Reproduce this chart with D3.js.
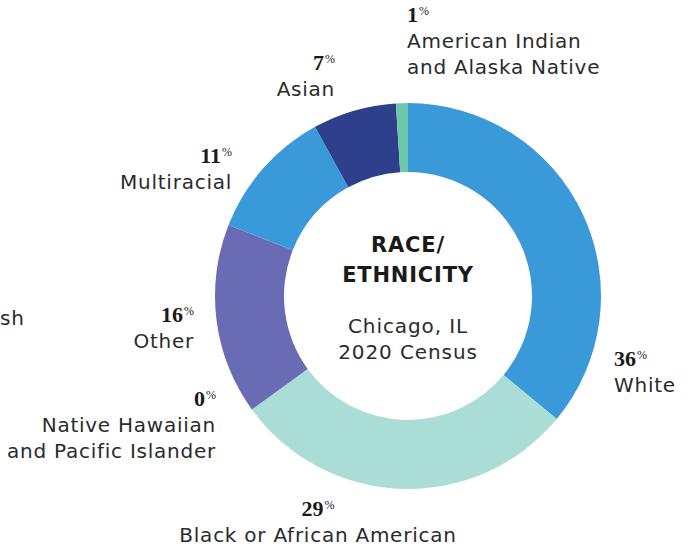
<!DOCTYPE html>
<html>
<head>
<meta charset="utf-8">
<script src="https://cdn.jsdelivr.net/npm/d3@7"></script>
<style>
  html, body { margin: 0; padding: 0; background: #fff; }
  svg { display: block; }
</style>
</head>
<body>
<svg id="chart" width="691" height="552"></svg>
<script>
// ---- data ----
const categories = ["White", "Black or African American", "Native Hawaiian and Pacific Islander", "Other", "Multiracial", "Asian", "American Indian and Alaska Native"];
const values = [36, 29, 0, 16, 11, 7, 1];
const labelLines = [
  ["White"],
  ["Black or African American"],
  ["Native Hawaiian", "and Pacific Islander"],
  ["Other"],
  ["Multiracial"],
  ["Asian"],
  ["American Indian", "and Alaska Native"]
];
const colors = ["#3a9ad9", "#a9ddd5", "#8fd0c4", "#6a6bb5", "#3a9ad9", "#2e3f8c", "#6cc8a8"];
const titleLines = ["RACE/", "ETHNICITY"];
const subtitleLines = ["Chicago, IL", "2020 Census"];

// ---- layout (label anchors, not data) ----
const labelLayout = [
  { x: 614, y: 366, anchor: "start" },
  { x: 318, y: 516, anchor: "middle" },
  { x: 216, y: 406, anchor: "end" },
  { x: 194, y: 322, anchor: "end" },
  { x: 232, y: 163, anchor: "end" },
  { x: 335, y: 70, anchor: "end" },
  { x: 407, y: 22, anchor: "start" }
];

const svg = d3.select("#chart");
const cx = 408, cy = 296, outerR = 193, innerR = 124;
const textColor = "#2b2b2b";
const sansFont = "'DejaVu Sans', 'Noto Sans', sans-serif";
const serifFont = "'Liberation Serif', 'DejaVu Serif', serif";
const labelSize = 20, labelSpacing = 0.75;

const pie = d3.pie().sort(null).value(d => d);
const arc = d3.arc().innerRadius(innerR).outerRadius(outerR);

const g = svg.append("g").attr("transform", `translate(${cx},${cy})`);
g.selectAll("path")
  .data(pie(values))
  .join("path")
  .attr("d", arc)
  .attr("fill", (d, i) => colors[i]);

// center text
const center = svg.append("g").attr("transform", `translate(${cx},0)`);
center.selectAll("text.title")
  .data(titleLines)
  .join("text")
  .attr("class", "title")
  .attr("x", 0)
  .attr("y", (d, i) => 252 + i * 30)
  .attr("text-anchor", "middle")
  .attr("font-family", sansFont)
  .attr("font-weight", 700)
  .attr("font-size", 21)
  .attr("letter-spacing", 0.8)
  .attr("fill", "#1a1a1a")
  .text(d => d);
center.selectAll("text.sub")
  .data(subtitleLines)
  .join("text")
  .attr("class", "sub")
  .attr("x", 0)
  .attr("y", (d, i) => 333 + i * 26)
  .attr("text-anchor", "middle")
  .attr("font-family", sansFont)
  .attr("font-size", labelSize)
  .attr("letter-spacing", 0.9)
  .attr("fill", textColor)
  .text(d => d);

// labels
categories.forEach((cat, i) => {
  const L = labelLayout[i];
  const grp = svg.append("g");
  const pct = grp.append("text")
    .attr("x", L.x)
    .attr("y", L.y)
    .attr("text-anchor", L.anchor)
    .attr("fill", "#1a1a1a");
  pct.append("tspan")
    .attr("font-family", serifFont)
    .attr("font-weight", 700)
    .attr("font-size", 22)
    .text(values[i]);
  pct.append("tspan")
    .attr("font-family", serifFont)
    .attr("font-size", 12)
    .attr("dy", -7)
    .attr("dx", 1)
    .text("%");
  labelLines[i].forEach((line, j) => {
    grp.append("text")
      .attr("x", L.x)
      .attr("y", L.y + 26 + j * 26)
      .attr("text-anchor", L.anchor)
      .attr("font-family", sansFont)
      .attr("font-size", labelSize)
      .attr("letter-spacing", labelSpacing)
      .attr("fill", textColor)
      .text(line);
  });
});

// truncated label at left edge
svg.append("text")
  .attr("x", 0)
  .attr("y", 325)
  .attr("font-family", sansFont)
  .attr("font-size", labelSize)
  .attr("letter-spacing", labelSpacing)
  .attr("fill", textColor)
  .text("sh");
</script>
</body>
</html>
